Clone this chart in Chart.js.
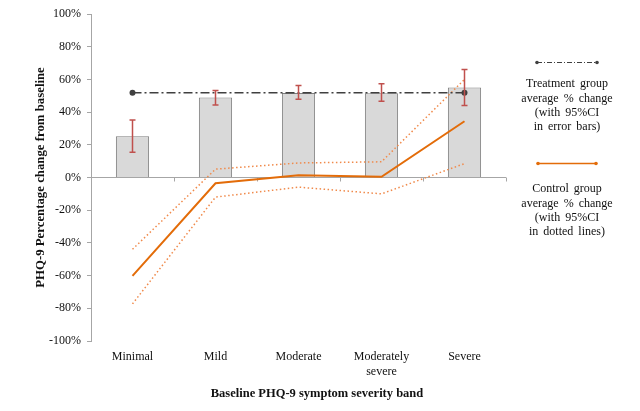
<!DOCTYPE html>
<html>
<head>
<meta charset="utf-8">
<script src="https://cdn.jsdelivr.net/npm/chart.js@4"></script>
<style>
  html, body { margin: 0; padding: 0; background: #fff; }
  #wrap { width: 640px; height: 411px; }
</style>
</head>
<body>
<div id="wrap"><canvas id="myChart" width="640" height="411"></canvas></div>
<script>
const bands = ['Minimal', 'Mild', 'Moderate', ['Moderately', 'severe'], 'Severe'];
const yTicks = [-100, -80, -60, -40, -20, 0, 20, 40, 60, 80, 100];

// treatment group (bars with 95% CI error bars)
const treatment = [25.3, 48.9, 51.7, 51.5, 55.0];
const treatmentLow = [15.5, 44.4, 47.9, 46.7, 44.0];
const treatmentHigh = [35.2, 53.2, 56.3, 57.3, 66.0];
const treatmentAvg = [51.8, 51.8, 51.8, 51.8, 51.8];

// control group (line with 95% CI dotted lines)
const control = [-60.2, -3.5, 1.4, 0.4, 34.4];
const controlHigh = [-43.9, 5.1, 8.9, 9.6, 60.0];
const controlLow = [-77.3, -12.0, -5.9, -10.0, 8.5];

const serif = '"Liberation Serif", "Times New Roman", serif';
const orange = '#e36c09';
const axisGrey = '#a6a6a6';
const textColor = '#111';

const errorBars = {
  id: 'errorBars',
  afterDatasetsDraw(chart) {
    const { ctx, scales: { x, y } } = chart;
    ctx.save();
    ctx.strokeStyle = '#c0504d';
    ctx.lineWidth = 1.5;
    treatment.forEach((v, i) => {
      const px = x.getPixelForValue(i);
      const top = y.getPixelForValue(treatmentHigh[i]);
      const bot = y.getPixelForValue(treatmentLow[i]);
      ctx.beginPath();
      ctx.moveTo(px, top); ctx.lineTo(px, bot);
      ctx.moveTo(px - 3, top); ctx.lineTo(px + 3, top);
      ctx.moveTo(px - 3, bot); ctx.lineTo(px + 3, bot);
      ctx.stroke();
    });
    ctx.restore();
  }
};

const zeroAxisTicks = {
  id: 'zeroAxisTicks',
  beforeDatasetsDraw(chart) {
    const { ctx, chartArea, scales: { x, y } } = chart;
    const y0 = y.getPixelForValue(0);
    ctx.save();
    ctx.strokeStyle = axisGrey;
    ctx.lineWidth = 1;
    for (let i = 0; i <= bands.length; i++) {
      let px;
      if (i === 0) px = chartArea.left;
      else if (i === bands.length) px = chartArea.right;
      else px = (x.getPixelForValue(i - 1) + x.getPixelForValue(i)) / 2;
      px = Math.round(px) + 0.5;
      ctx.beginPath();
      ctx.moveTo(px, y0);
      ctx.lineTo(px, y0 + 4);
      ctx.stroke();
    }
    ctx.restore();
  }
};

const sideLegend = {
  id: 'sideLegend',
  afterDraw(chart) {
    const ctx = chart.ctx;
    const cx = 567;
    ctx.save();

    // x axis title (sits a little right of the plot centre in the original)
    ctx.font = 'bold 12.5px ' + serif;
    ctx.fillStyle = textColor;
    ctx.textAlign = 'center';
    ctx.textBaseline = 'middle';
    ctx.fillText('Baseline PHQ-9 symptom severity band', 317, 394);

    ctx.font = '12px ' + serif;
    ctx.wordSpacing = '2px';

    // treatment entry
    ctx.strokeStyle = '#404040';
    ctx.lineWidth = 1.2;
    ctx.setLineDash([5, 2, 1, 2]);
    ctx.beginPath(); ctx.moveTo(537, 62.5); ctx.lineTo(597, 62.5); ctx.stroke();
    ctx.setLineDash([]);
    ctx.fillStyle = '#404040';
    [537, 597].forEach(px => { ctx.beginPath(); ctx.arc(px, 62.5, 1.8, 0, Math.PI * 2); ctx.fill(); });
    ctx.fillStyle = textColor;
    ['Treatment group', 'average % change', '(with 95%CI', 'in error bars)']
      .forEach((t, i) => ctx.fillText(t, cx, 84.3 + i * 14.2));

    // control entry
    ctx.strokeStyle = orange;
    ctx.lineWidth = 1.5;
    ctx.beginPath(); ctx.moveTo(538, 163.5); ctx.lineTo(596, 163.5); ctx.stroke();
    ctx.fillStyle = orange;
    [538, 596].forEach(px => { ctx.beginPath(); ctx.arc(px, 163.5, 1.8, 0, Math.PI * 2); ctx.fill(); });
    ctx.fillStyle = textColor;
    ['Control group', 'average % change', '(with 95%CI', 'in dotted lines)']
      .forEach((t, i) => ctx.fillText(t, cx, 189.3 + i * 14.1));
    ctx.restore();
  }
};

const ctx = document.getElementById('myChart').getContext('2d');

new Chart(ctx, {
  type: 'bar',
  data: {
    labels: bands,
    datasets: [
      {
        label: 'Treatment group',
        data: treatment,
        backgroundColor: '#d9d9d9',
        borderColor: '#7f7f7f',
        borderWidth: 1,
        barPercentage: 0.4,
        categoryPercentage: 1,
        order: 10
      },
      {
        type: 'line',
        label: 'Treatment average',
        data: treatmentAvg,
        borderColor: '#404040',
        borderWidth: 1.5,
        borderDash: [9, 3, 2, 3],
        pointRadius: [3, 0, 0, 0, 3],
        pointBackgroundColor: '#404040',
        pointBorderWidth: 0,
        order: 2
      },
      {
        type: 'line',
        label: 'Control group',
        data: control,
        borderColor: orange,
        borderWidth: 2,
        pointRadius: 0,
        tension: 0,
        order: 1
      },
      {
        type: 'line',
        label: 'Control upper CI',
        data: controlHigh,
        borderColor: '#f08a4b',
        borderWidth: 1.5,
        borderDash: [1.5, 2.5],
        pointRadius: 0,
        order: 3
      },
      {
        type: 'line',
        label: 'Control lower CI',
        data: controlLow,
        borderColor: '#f08a4b',
        borderWidth: 1.5,
        borderDash: [1.5, 2.5],
        pointRadius: 0,
        order: 3
      }
    ]
  },
  options: {
    responsive: false,
    animation: false,
    layout: { padding: { left: 29, right: 134, top: 14, bottom: 6 } },
    plugins: {
      legend: { display: false },
      tooltip: { enabled: false }
    },
    scales: {
      x: {
        grid: { display: false },
        border: { display: false },
        ticks: { color: textColor, font: { family: serif, size: 12 }, padding: 1, maxRotation: 0 },
        afterFit(scale) { scale.height = 64; }
      },
      y: {
        min: -100,
        max: 100,
        afterBuildTicks(scale) { scale.ticks = yTicks.map(v => ({ value: v })); },
        grid: {
          color: c => (c.tick && c.tick.value === 0 ? axisGrey : 'transparent'),
          tickColor: axisGrey,
          tickLength: 4
        },
        border: { display: true, color: axisGrey },
        ticks: {
          color: textColor,
          font: { family: serif, size: 12 },
          padding: 6,
          callback: v => v + '%'
        },
        title: {
          display: true,
          text: 'PHQ-9 Percentage change from baseline',
          color: textColor,
          font: { family: serif, size: 12.8, weight: 'bold' }
        },
        afterFit(scale) { scale.width = 62; }
      }
    }
  },
  plugins: [zeroAxisTicks, errorBars, sideLegend]
});
</script>
</body>
</html>
